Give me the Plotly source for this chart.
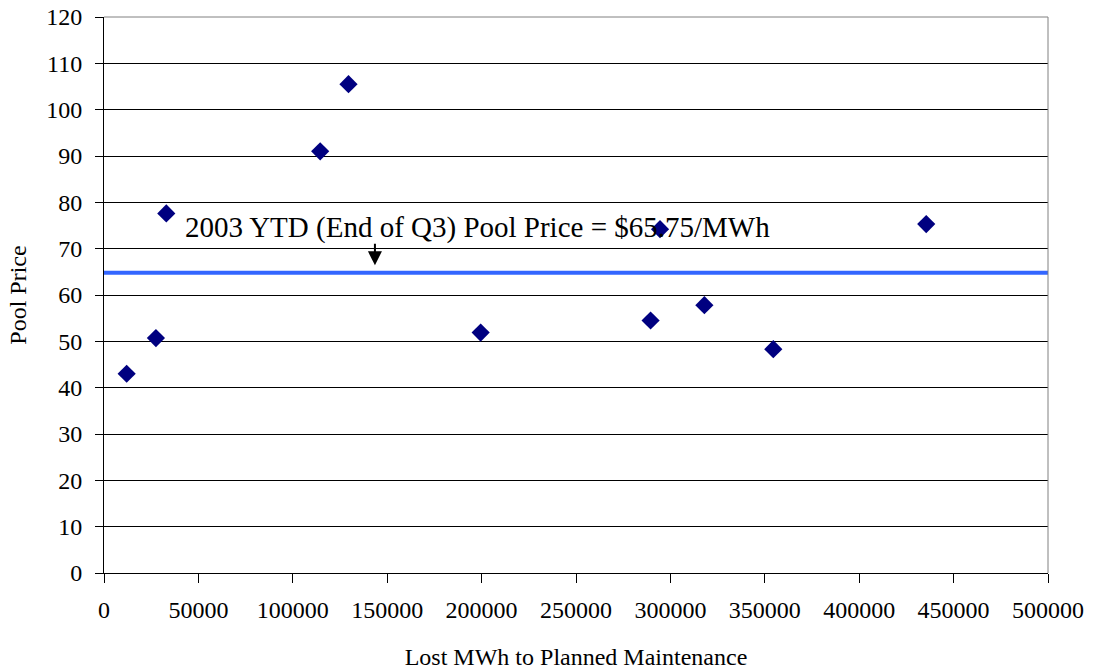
import plotly.graph_objects as go

lost_mwh = [12000, 27500, 33000, 114500, 129500, 199500, 289500, 294500, 318000, 354500, 435500]
pool_price = [43.0, 50.7, 77.6, 91.0, 105.5, 51.9, 54.5, 74.2, 57.8, 48.3, 75.3]
ytd_price = 64.8
ytd_label = "2003 YTD (End of Q3) Pool Price = $65.75/MWh"
arrow_x = 143500
x_ticks = list(range(0, 500001, 50000))
y_ticks = list(range(0, 121, 10))

fig = go.Figure()
fig.add_trace(go.Scatter(
    x=[0, 500000], y=[ytd_price, ytd_price], mode="lines",
    line=dict(color="#3366FF", width=4), showlegend=False, hoverinfo="skip"))
fig.add_trace(go.Scatter(
    x=lost_mwh, y=pool_price, mode="markers",
    marker=dict(symbol="diamond", color="#000080", size=14, line=dict(width=0)),
    showlegend=False))

font = "Liberation Serif, Times New Roman, serif"
fig.update_layout(
    width=1094, height=670,
    margin=dict(l=104, r=46, t=17, b=97),
    paper_bgcolor="white", plot_bgcolor="white",
    font=dict(family=font, size=24, color="black"),
    xaxis=dict(range=[0, 500000], tickvals=x_ticks, ticktext=[str(v) for v in x_ticks],
               showgrid=False, zeroline=False, showline=True, linecolor="black",
               linewidth=1, ticks="outside", ticklen=9, tickcolor="black",
               ticklabelstandoff=6, automargin=False,
               title=dict(text="Lost MWh to Planned Maintenance", standoff=26,
                          font=dict(size=24)),
               tickfont=dict(size=24)),
    yaxis=dict(range=[0, 120], tickvals=y_ticks, ticktext=[str(v) for v in y_ticks],
               showgrid=True, gridcolor="black", gridwidth=1, zeroline=False,
               showline=True, linecolor="black", linewidth=1,
               ticks="outside", ticklen=8, tickcolor="black",
               ticklabelstandoff=8, automargin=False,
               title=dict(text="Pool Price", standoff=12, font=dict(size=24)),
               tickfont=dict(size=24)),
    shapes=[
        dict(type="line", xref="paper", yref="paper", x0=0, x1=1, y0=1, y1=1,
             line=dict(color="#808080", width=1)),
        dict(type="line", xref="paper", yref="paper", x0=1, x1=1, y0=0, y1=1,
             line=dict(color="#808080", width=1)),
    ],
    annotations=[
        dict(x=42000, y=74.6, xref="x", yref="y", text=ytd_label, showarrow=False,
             xanchor="left", yanchor="middle", font=dict(size=29, family=font)),
        dict(x=arrow_x, y=66.4, xref="x", yref="y", text="", showarrow=True,
             ax=0, ay=-23, arrowhead=2, arrowsize=1.4, arrowwidth=2,
             arrowcolor="black", standoff=0),
    ],
)
fig.write_html("out.html")
